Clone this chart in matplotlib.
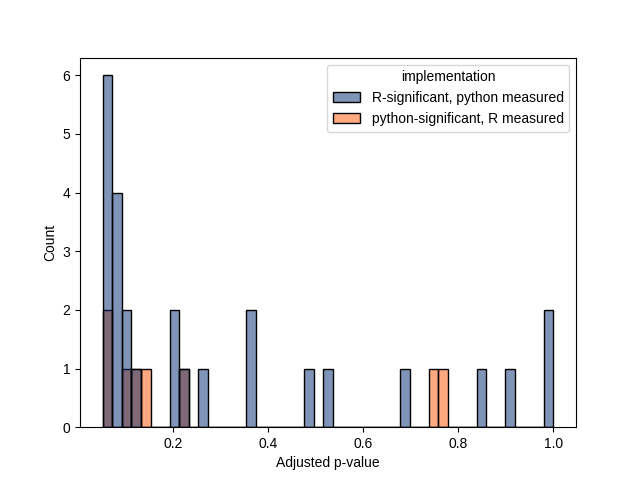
import matplotlib
matplotlib.use("Agg")
import matplotlib.pyplot as plt
import seaborn as sns
import pandas as pd

plt.rcParams['font.family'] = ['Liberation Sans', 'DejaVu Sans']

r_sig_python = [0.0526, 0.055, 0.06, 0.065, 0.068, 0.07,
                0.075, 0.08, 0.085, 0.09,
                0.10, 0.105,
                0.12,
                0.20, 0.205,
                0.225,
                0.265,
                0.36, 0.365,
                0.485,
                0.525,
                0.69,
                0.848,
                0.91,
                0.99, 1.0]
py_sig_r = [0.055, 0.065, 0.10, 0.12, 0.145, 0.225, 0.748, 0.768]

labels = ["R-significant, python measured", "python-significant, R measured"]
colors = ["#002a6e", "#ff5505"]

df = pd.DataFrame({
    "Adjusted p-value": r_sig_python + py_sig_r,
    "implementation": [labels[0]] * len(r_sig_python) + [labels[1]] * len(py_sig_r),
})

fig, ax = plt.subplots(figsize=(6.4, 4.8), dpi=100)
sns.histplot(data=df, x="Adjusted p-value", hue="implementation", bins=47,
             palette=dict(zip(labels, colors)), alpha=0.5, ax=ax,
             edgecolor="black", linewidth=1)
fig.savefig("out.png", dpi=100)
